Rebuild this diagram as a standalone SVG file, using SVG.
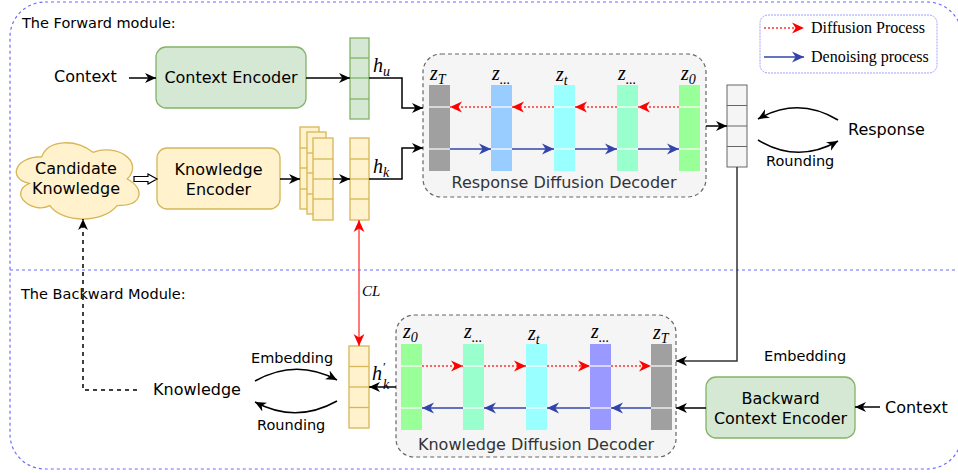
<svg xmlns="http://www.w3.org/2000/svg" width="958" height="473" viewBox="0 0 958 473">
<style>
.lbl{font-family:"DejaVu Sans",Verdana,sans-serif;fill:#000}
.t16{font-size:16px}
.t145{font-size:14.5px}
.title{font-family:"DejaVu Sans",sans-serif;font-size:14.5px;fill:#000}
.dec{font-family:"DejaVu Sans",sans-serif;font-size:16px;fill:#333}
.math{font-family:"Liberation Serif","DejaVu Serif",serif;font-style:italic;font-size:20px;fill:#000}
.sub{font-size:14px}
.leg{font-family:"Liberation Serif","Times New Roman",serif;font-size:16px;fill:#000}
.green{fill:#d5e8d4;stroke:#82b366;stroke-width:1.3}
.yellow{fill:#fff2cc;stroke:#d6b656;stroke-width:1.3}
.gray{fill:#f5f5f5;stroke:#666;stroke-width:1}
.container{fill:#f5f5f5;stroke:#666;stroke-width:1.2;stroke-dasharray:4 3}
.cell{stroke:#fff;stroke-width:1.2}
.blk{fill:none;stroke:#000;stroke-width:1.5}
.red{fill:none;stroke:#ff3333;stroke-width:1.5;stroke-dasharray:2 2}
.blue{fill:none;stroke:#3344aa;stroke-width:1.5}
.frame{fill:none;stroke:#6c6cff;stroke-width:1.2;stroke-dasharray:3 3}
</style>
<defs>
<marker id="ab" viewBox="0 0 10 10" refX="10" refY="5" markerWidth="11" markerHeight="11" markerUnits="userSpaceOnUse" orient="auto-start-reverse"><path d="M0,0.5 L10,5 L0,9.5 L3,5 z" fill="#000"/></marker>
<marker id="ar" viewBox="0 0 10 10" refX="10" refY="5" markerWidth="12" markerHeight="12" markerUnits="userSpaceOnUse" orient="auto-start-reverse"><path d="M0,0.5 L10,5 L0,9.5 L3,5 z" fill="#ff0000"/></marker>
<marker id="abl" viewBox="0 0 10 10" refX="10" refY="5" markerWidth="12" markerHeight="12" markerUnits="userSpaceOnUse" orient="auto-start-reverse"><path d="M0,0.5 L10,5 L0,9.5 L3,5 z" fill="#3344aa"/></marker>
</defs>

<!-- frames -->
<g id="frames">
<rect class="frame" x="10" y="2" width="952" height="467" rx="35"/>
<line class="frame" x1="10" y1="270" x2="958" y2="270"/>
<text class="title" x="22" y="28">The Forward module:</text>
<text class="title" x="21" y="299">The Backward Module:</text>
</g>

<!-- legend -->
<g id="legend">
<rect x="760" y="15" width="177" height="58" rx="8" fill="#fff" stroke="#a0a0ff" stroke-width="1" stroke-dasharray="2 1"/>
<line class="red" x1="764" y1="28" x2="804" y2="28" marker-end="url(#ar)"/>
<text class="leg" x="811" y="33">Diffusion Process</text>
<line class="blue" x1="764" y1="57" x2="804" y2="57" marker-end="url(#abl)"/>
<text class="leg" x="811" y="62">Denoising process</text>
</g>

<!-- forward nodes -->
<g id="context-in"><text class="lbl t16" x="54" y="82">Context</text></g>
<g id="context-encoder">
<rect class="green" x="156" y="47" width="150" height="61" rx="10"/>
<text class="lbl t16" x="231" y="83" text-anchor="middle">Context Encoder</text>
</g>
<g id="hu">
<rect class="green" x="350" y="38" width="19" height="81"/>
<line x1="350" y1="58" x2="369" y2="58" stroke="#82b366" stroke-width="1.3"/>
<line x1="350" y1="78" x2="369" y2="78" stroke="#82b366" stroke-width="1.3"/>
<line x1="350" y1="99" x2="369" y2="99" stroke="#82b366" stroke-width="1.3"/>
<text class="math" x="373" y="72">h<tspan class="sub" dy="4">u</tspan></text>
</g>
<g id="candidate-knowledge">
<path transform="translate(7.4,134.5) scale(1.37,0.89)" vector-effect="non-scaling-stroke" d="M25,25 C5,25 0,50 16,55 C0,66 18,90 31,80 C40,100 70,100 80,80 C100,80 100,60 87.5,50 C100,30 80,10 62.5,20 C50,5 30,5 25,25 Z" fill="#fff2cc" stroke="#d6b656" stroke-width="1.3"/>
<text class="lbl t16" x="76" y="174" text-anchor="middle">Candidate</text>
<text class="lbl t16" x="76" y="194" text-anchor="middle">Knowledge</text>
</g>
<g id="knowledge-encoder">
<rect class="yellow" x="157" y="148" width="123" height="61" rx="10"/>
<text class="lbl t16" x="218.5" y="175" text-anchor="middle">Knowledge</text>
<text class="lbl t16" x="218.5" y="195" text-anchor="middle">Encoder</text>
</g>
<g id="knowledge-stack">
<rect class="yellow" x="300" y="127" width="19" height="82"/>
<rect class="yellow" x="307" y="132" width="19" height="82"/>
<rect class="yellow" x="313" y="138" width="20" height="82"/>
<g stroke="#d6b656" stroke-width="1.3">
<line x1="300" y1="148" x2="307" y2="148"/><line x1="300" y1="168" x2="307" y2="168"/><line x1="300" y1="189" x2="307" y2="189"/>
<line x1="307" y1="153" x2="313" y2="153"/><line x1="307" y1="173" x2="313" y2="173"/><line x1="307" y1="194" x2="313" y2="194"/>
<line x1="313" y1="159" x2="333" y2="159"/><line x1="313" y1="179" x2="333" y2="179"/><line x1="313" y1="199" x2="333" y2="199"/>
</g>
</g>
<g id="hk">
<rect class="yellow" x="350" y="138" width="19" height="82"/>
<g stroke="#d6b656" stroke-width="1.3"><line x1="350" y1="159" x2="369" y2="159"/><line x1="350" y1="179" x2="369" y2="179"/><line x1="350" y1="199" x2="369" y2="199"/></g>
<text class="math" x="373" y="173">h<tspan class="sub" dy="4">k</tspan></text>
</g>

<g id="response-diffusion-decoder">
<rect class="container" x="423" y="54" width="283" height="143" rx="18"/>
<rect x="429" y="85" width="21" height="86" fill="#a0a0a0"/>
<rect x="491" y="85" width="21" height="86" fill="#99ccff"/>
<rect x="554" y="85" width="21" height="86" fill="#99ffff"/>
<rect x="617" y="85" width="21" height="86" fill="#99ffcc"/>
<rect x="679" y="85" width="21" height="86" fill="#99ff99"/>
<g class="cell">
<line x1="429" y1="107" x2="450" y2="107"/><line x1="429" y1="149" x2="450" y2="149"/>
<line x1="491" y1="107" x2="512" y2="107"/><line x1="491" y1="149" x2="512" y2="149"/>
<line x1="554" y1="107" x2="575" y2="107"/><line x1="554" y1="149" x2="575" y2="149"/>
<line x1="617" y1="107" x2="638" y2="107"/><line x1="617" y1="149" x2="638" y2="149"/>
<line x1="679" y1="107" x2="700" y2="107"/><line x1="679" y1="149" x2="700" y2="149"/>
</g>
<text class="math" x="430" y="80">z<tspan class="sub" dy="4">T</tspan></text>
<text class="math" x="492" y="80">z<tspan class="sub" dy="4">...</tspan></text>
<text class="math" x="556" y="81">z<tspan class="sub" dy="4">t</tspan></text>
<text class="math" x="618" y="80">z<tspan class="sub" dy="4">...</tspan></text>
<text class="math" x="681" y="80">z<tspan class="sub" dy="4">0</tspan></text>
<text class="dec" x="564" y="188" text-anchor="middle">Response Diffusion Decoder</text>
</g>

<g id="response-vector">
<rect class="gray" x="727" y="85" width="20" height="82"/>
<g stroke="#666" stroke-width="1"><line x1="727" y1="105.5" x2="747" y2="105.5"/><line x1="727" y1="126" x2="747" y2="126"/><line x1="727" y1="146.5" x2="747" y2="146.5"/></g>
</g>
<g id="response"><text class="lbl t16" x="848" y="135">Response</text></g>

<!-- backward nodes -->
<g id="knowledge-out"><text class="lbl t16" x="153" y="395">Knowledge</text></g>
<g id="hk-prime">
<rect class="yellow" x="349" y="346" width="20" height="82"/>
<g stroke="#d6b656" stroke-width="1.3"><line x1="349" y1="366.5" x2="369" y2="366.5"/><line x1="349" y1="387" x2="369" y2="387"/><line x1="349" y1="407.5" x2="369" y2="407.5"/></g>
<text class="math" x="372" y="380">h</text>
<text class="math" x="383" y="371" style="font-size:13px;font-style:normal">′</text>
<text class="math sub" x="383" y="389">k</text>
</g>
<g id="knowledge-diffusion-decoder">
<rect class="container" x="396" y="315" width="280" height="142" rx="18"/>
<rect x="401" y="344" width="21" height="86" fill="#99ff99"/>
<rect x="463" y="344" width="21" height="86" fill="#99ffcc"/>
<rect x="526" y="344" width="21" height="86" fill="#99ffff"/>
<rect x="590" y="344" width="21" height="86" fill="#9999ff"/>
<rect x="651" y="344" width="21" height="86" fill="#a0a0a0"/>
<g class="cell">
<line x1="401" y1="366" x2="422" y2="366"/><line x1="401" y1="408" x2="422" y2="408"/>
<line x1="463" y1="366" x2="484" y2="366"/><line x1="463" y1="408" x2="484" y2="408"/>
<line x1="526" y1="366" x2="547" y2="366"/><line x1="526" y1="408" x2="547" y2="408"/>
<line x1="590" y1="366" x2="611" y2="366"/><line x1="590" y1="408" x2="611" y2="408"/>
<line x1="651" y1="366" x2="672" y2="366"/><line x1="651" y1="408" x2="672" y2="408"/>
</g>
<text class="math" x="403" y="338">z<tspan class="sub" dy="4">0</tspan></text>
<text class="math" x="464" y="338">z<tspan class="sub" dy="4">...</tspan></text>
<text class="math" x="528" y="340">z<tspan class="sub" dy="4">t</tspan></text>
<text class="math" x="591" y="338">z<tspan class="sub" dy="4">...</tspan></text>
<text class="math" x="653" y="339">z<tspan class="sub" dy="4">T</tspan></text>
<text class="dec" x="536" y="450" text-anchor="middle">Knowledge Diffusion Decoder</text>
</g>
<g id="backward-context-encoder">
<rect class="green" x="706" y="377" width="149" height="61" rx="10"/>
<text class="lbl t16" x="780.5" y="404" text-anchor="middle">Backward</text>
<text class="lbl t16" x="780.5" y="424" text-anchor="middle">Context Encoder</text>
</g>
<g id="context-in-2"><text class="lbl t16" x="885" y="413">Context</text></g>

<!-- connectors -->
<g id="connectors">
<line class="blk" x1="129" y1="78" x2="156" y2="78" marker-end="url(#ab)"/>
<line class="blk" x1="306" y1="78" x2="350" y2="78" marker-end="url(#ab)"/>
<polyline class="blk" points="369,78 402,78 402,108 423,108" marker-end="url(#ab)"/>
<polygon points="134,176.5 148,176.5 148,174 157,179 148,184 148,181.5 134,181.5" fill="#fff" stroke="#000" stroke-width="1.2"/>
<line class="blk" x1="280" y1="179" x2="300" y2="179" marker-end="url(#ab)"/>
<line class="blk" x1="333" y1="179" x2="350" y2="179" marker-end="url(#ab)"/>
<polyline class="blk" points="369,179 402,179 402,148 423,148" marker-end="url(#ab)"/>
<line class="red" x1="491" y1="107" x2="450" y2="107" marker-end="url(#ar)"/>
<line class="red" x1="554" y1="107" x2="512" y2="107" marker-end="url(#ar)"/>
<line class="red" x1="617" y1="107" x2="575" y2="107" marker-end="url(#ar)"/>
<line class="red" x1="679" y1="107" x2="638" y2="107" marker-end="url(#ar)"/>
<line class="blue" x1="450" y1="149" x2="491" y2="149" marker-end="url(#abl)"/>
<line class="blue" x1="512" y1="149" x2="554" y2="149" marker-end="url(#abl)"/>
<line class="blue" x1="575" y1="149" x2="617" y2="149" marker-end="url(#abl)"/>
<line class="blue" x1="638" y1="149" x2="679" y2="149" marker-end="url(#abl)"/>
<line class="blk" x1="706" y1="126" x2="727" y2="126" marker-end="url(#ab)"/>
<path class="blk" d="M838,120 Q798,96 758,119" marker-end="url(#ab)"/>
<path class="blk" d="M758,140 Q798,164 838,141" marker-end="url(#ab)"/>
<text class="lbl t145" x="766" y="166">Rounding</text>
<polyline points="737,167 737,361 676,361" fill="none" stroke="#333" stroke-width="1.5" marker-end="url(#ab)"/>
<text class="lbl t145" x="764" y="361">Embedding</text>
<line x1="359" y1="220" x2="359" y2="346" stroke="#ff3333" stroke-width="1.3" marker-start="url(#ar)" marker-end="url(#ar)"/>
<text class="math" x="362" y="296" style="font-size:15px">CL</text>
<line class="red" x1="422" y1="366" x2="463" y2="366" marker-end="url(#ar)"/>
<line class="red" x1="484" y1="366" x2="526" y2="366" marker-end="url(#ar)"/>
<line class="red" x1="547" y1="366" x2="590" y2="366" marker-end="url(#ar)"/>
<line class="red" x1="611" y1="366" x2="651" y2="366" marker-end="url(#ar)"/>
<line class="blue" x1="651" y1="408" x2="611" y2="408" marker-end="url(#abl)"/>
<line class="blue" x1="590" y1="408" x2="547" y2="408" marker-end="url(#abl)"/>
<line class="blue" x1="526" y1="408" x2="484" y2="408" marker-end="url(#abl)"/>
<line class="blue" x1="463" y1="408" x2="422" y2="408" marker-end="url(#abl)"/>
<line class="blk" x1="706" y1="408" x2="676" y2="408" marker-end="url(#ab)"/>
<line class="blk" x1="880" y1="407" x2="855" y2="407" marker-end="url(#ab)"/>
<line class="blk" x1="396" y1="387" x2="369" y2="387" marker-end="url(#ab)"/>
<path class="blk" d="M255,381 Q296,358 337,380" marker-end="url(#ab)"/>
<path class="blk" d="M337,401 Q296,424 255,402" marker-end="url(#ab)"/>
<text class="lbl t145" x="251" y="363">Embedding</text>
<text class="lbl t145" x="257" y="430">Rounding</text>
<polyline points="137,390 83,390 83,219" fill="none" stroke="#000" stroke-width="1.5" stroke-dasharray="4 4" marker-end="url(#ab)"/>
</g>
</svg>
